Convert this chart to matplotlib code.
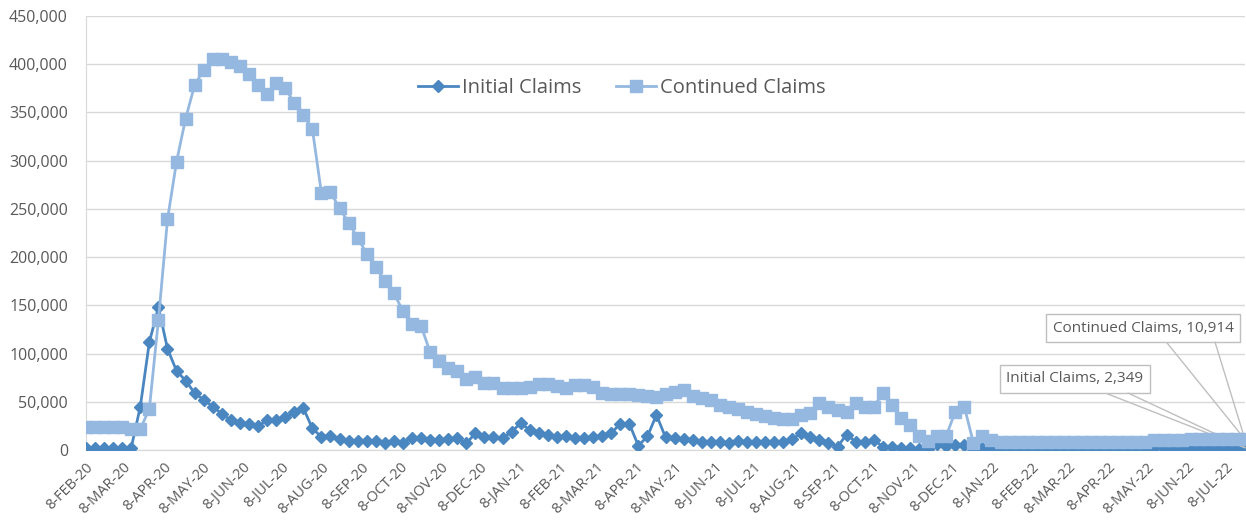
import matplotlib
matplotlib.use("Agg")
import matplotlib.pyplot as plt
from matplotlib.ticker import FuncFormatter
import pandas as pd

# ---- data ----
start_week = "2020-02-08"
n_weeks = 129
week_dates = pd.date_range(start_week, periods=n_weeks, freq="7D")

initial_claims = [
    2500, 2500, 2000, 2500, 2500, 2500, 45000, 112000, 148000, 105000,
    82000, 72000, 59000, 52000, 45000, 37500, 31000, 28500, 26700, 24500,
    31000, 31500, 34000, 39000, 43500, 22500, 13500, 15000, 11100, 9700,
    9700, 9700, 9700, 7600, 9700, 7600, 12100, 12000, 10000, 10000,
    11100, 12100, 6900, 17300, 13800, 13200, 12100, 19000, 27700, 20800,
    17300, 15600, 13200, 14500, 12100, 12100, 13800, 14500, 17300, 27300,
    27300, 4500, 14000, 36400, 13200, 12100, 11100, 10400, 8600, 8000,
    8000, 7300, 9000, 7800, 8000, 8000, 8000, 8000, 11500, 17300,
    13000, 10000, 7000, 3500, 16000, 8600, 8600, 10500, 3500, 3500,
    2500, 2500, 1000, 1000, 6500, 4000, 5000, 5500, 1000, 1700,
    1300, 1300, 1300, 1300, 1300, 1300, 1300, 1300, 1300, 1300,
    1300, 1300, 1300, 1300, 1300, 1300, 1300, 2300, 2300, 2300,
    2300, 2300, 2300, 2300, 2300, 2300, 2300, 2300, 2349,
]

continued_claims = [
    24000, 24000, 24000, 24000, 24000, 22000, 21500, 43000, 135000, 239000,
    299000, 343500, 378500, 394000, 405000, 405000, 402000, 398500, 390000, 378500,
    369000, 381000, 375500, 359600, 347500, 332800, 266300, 267000, 251000, 235500,
    220000, 203700, 189900, 175000, 162900, 143800, 130500, 129000, 101500, 92000,
    85000, 81500, 73500, 75500, 69300, 69300, 64000, 64000, 64000, 65000,
    68500, 68500, 66200, 64000, 67000, 67000, 65000, 59600, 58200, 58200,
    58200, 57500, 55700, 54500, 58000, 60600, 62000, 56300, 53700, 51500,
    46300, 44400, 42000, 39300, 37300, 35000, 33500, 32000, 32500, 36000,
    38800, 49200, 44500, 41500, 39500, 48500, 45000, 45000, 58900, 46500,
    33500, 26000, 15000, 9000, 14500, 14500, 39800, 45000, 7500, 14000,
    10400, 8600, 8600, 8600, 8600, 8600, 8600, 8600, 8600, 8600,
    8600, 8600, 8600, 8600, 8600, 8600, 8600, 8600, 10000, 10000,
    10000, 10000, 11500, 11500, 11500, 11500, 11500, 11500, 10914,
]

series_names = ["Initial Claims", "Continued Claims"]
tick_dates = pd.date_range("2020-02-08", "2022-07-08", freq=pd.DateOffset(months=1))
tick_labels = [f"{d.day}-{d.strftime('%b').upper()}-{d.strftime('%y')}" for d in tick_dates]

# ---- style ----
plt.rcParams["font.family"] = ["Open Sans", "DejaVu Sans"]
c_init = "#4A86C0"
c_cont = "#95B8E0"
grid_c = "#D9D9D9"
text_c = "#595959"

fig = plt.figure(figsize=(12.46, 5.29), dpi=100)
ax = fig.add_axes([86 / 1246, 1 - 450 / 529, (1245 - 86) / 1246, (450 - 16) / 529])

ax.plot(week_dates, initial_claims, color=c_init, lw=2.0, marker="D", ms=6,
        mec=c_init, mfc=c_init, label=series_names[0], zorder=3)
ax.plot(week_dates, continued_claims, color=c_cont, lw=2.0, marker="s", ms=8,
        mec=c_cont, mfc=c_cont, label=series_names[1], zorder=4)

ax.set_xlim(week_dates[0], week_dates[-1])
ax.set_ylim(0, 450000)
ax.set_yticks(range(0, 450001, 50000))
ax.yaxis.set_major_formatter(FuncFormatter(lambda v, p: f"{int(v):,}"))
ax.grid(axis="y", color=grid_c, lw=1.0)
ax.set_axisbelow(True)

ax.set_xticks(tick_dates)
ax.set_xticklabels(tick_labels, rotation=45, ha="right", va="top",
                   rotation_mode="anchor", fontsize=10.5, color=text_c)
ax.tick_params(axis="x", length=0, pad=7)
ax.tick_params(axis="y", length=0, labelsize=11.5, colors=text_c, pad=13)

for s in ["top", "right"]:
    ax.spines[s].set_visible(False)
ax.spines["left"].set_color(grid_c)
ax.spines["bottom"].set_color(grid_c)

leg = ax.legend(loc="center", bbox_to_anchor=((622 - 86) / 1159, (450 - 88) / 434), ncol=2,
                frameon=False, fontsize=14.5, handlelength=2.0, columnspacing=1.7,
                handletextpad=0.2, labelcolor=text_c)

# ---- data callouts ----
last_x = week_dates[-1]
box = dict(boxstyle="square,pad=0.45", fc="white", ec="#BFBFBF", lw=1)
arrow = dict(arrowstyle="-", color="#BFBFBF", lw=1, shrinkA=0, shrinkB=0)

ax.annotate(f"{series_names[1]}, {continued_claims[-1]:,}", xy=(last_x, continued_claims[-1]),
            xytext=(1143, 529 - 328), textcoords="figure pixels", ha="center", va="center",
            fontsize=11, color=text_c, bbox=box, annotation_clip=False,
            arrowprops=dict(arrow, relpos=(0.6, 0.0)))
ax.annotate("", xy=(last_x, continued_claims[-1]), xytext=(1215, 529 - 342),
            textcoords="figure pixels", annotation_clip=False, arrowprops=arrow)

ax.annotate(f"{series_names[0]}, {initial_claims[-1]:,}", xy=(last_x, initial_claims[-1]),
            xytext=(1075, 529 - 379), textcoords="figure pixels", ha="center", va="center",
            fontsize=11, color=text_c, bbox=box, annotation_clip=False,
            arrowprops=dict(arrow, relpos=(0.6, 0.0)))
ax.annotate("", xy=(last_x, initial_claims[-1]), xytext=(1128, 529 - 393),
            textcoords="figure pixels", annotation_clip=False, arrowprops=arrow)

fig.savefig("out.png", dpi=100)
